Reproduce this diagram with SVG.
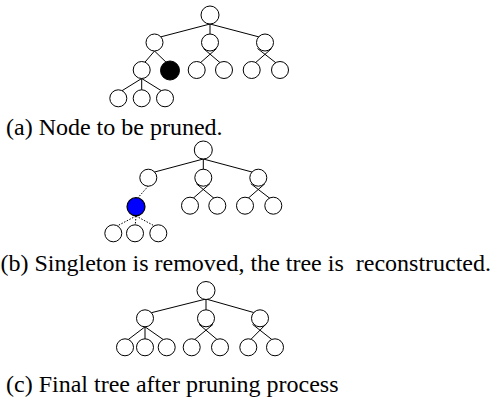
<svg xmlns="http://www.w3.org/2000/svg" width="493" height="398" viewBox="0 0 493 398">
<style>
.e{stroke:#000;stroke-width:1;fill:none}
.d{stroke:#000;stroke-width:1;fill:none;stroke-dasharray:1.5 1.5}
.n{fill:#fff;stroke:#000;stroke-width:1}
.k{fill:#000;stroke:#000;stroke-width:1}
.b{fill:#0000ff;stroke:#000;stroke-width:1.2}
.t{font-family:"Liberation Serif","Times New Roman",serif;font-size:24px;fill:#000;white-space:pre}
</style>
<rect width="493" height="398" fill="#fff"/>
<g id="connectors">
<!-- tree a -->
<line class="e" x1="210" y1="24" x2="154.5" y2="38.5"/>
<line class="e" x1="210" y1="24" x2="210" y2="38.5"/>
<line class="e" x1="210" y1="24" x2="265" y2="38.5"/>
<line class="e" x1="154.5" y1="51" x2="141.7" y2="66"/>
<line class="e" x1="154.5" y1="51" x2="170" y2="66"/>
<line class="e" x1="196.7" y1="66" x2="216.6" y2="48.5"/>
<line class="e" x1="224" y1="66" x2="203.4" y2="48.5"/>
<line class="e" x1="251.7" y1="66" x2="271.6" y2="48.5"/>
<line class="e" x1="280" y1="66" x2="257.5" y2="48.5"/>
<line class="e" x1="141.7" y1="78.5" x2="118.3" y2="93"/>
<line class="e" x1="141.7" y1="78.5" x2="141.7" y2="93"/>
<line class="e" x1="141.7" y1="78.5" x2="165" y2="93"/>
<!-- tree b -->
<line class="e" x1="203.3" y1="159" x2="148.3" y2="173.7"/>
<line class="e" x1="203.3" y1="159" x2="203.3" y2="173.7"/>
<line class="e" x1="203.3" y1="159" x2="258.3" y2="173.7"/>
<line class="d" x1="148.3" y1="186" x2="136" y2="200"/>
<line class="e" x1="190" y1="201" x2="209.9" y2="183.7"/>
<line class="e" x1="217.3" y1="201" x2="196.3" y2="183.7"/>
<line class="e" x1="245" y1="201" x2="264.9" y2="183.7"/>
<line class="e" x1="273.3" y1="201" x2="250.8" y2="183.7"/>
<line class="d" x1="136" y1="216" x2="113.3" y2="228"/>
<line class="d" x1="136" y1="216" x2="135" y2="228"/>
<line class="d" x1="136" y1="216" x2="158.3" y2="228"/>
<!-- tree c -->
<line class="e" x1="206" y1="299" x2="145" y2="314.3"/>
<line class="e" x1="206" y1="299" x2="206" y2="314.3"/>
<line class="e" x1="206" y1="299" x2="260" y2="314.3"/>
<line class="e" x1="145" y1="326.8" x2="125" y2="342"/>
<line class="e" x1="145" y1="326.8" x2="145" y2="342"/>
<line class="e" x1="145" y1="326.8" x2="166.7" y2="342"/>
<line class="e" x1="191.7" y1="342" x2="213.1" y2="324.3"/>
<line class="e" x1="220" y1="342" x2="199" y2="324.3"/>
<line class="e" x1="248.3" y1="342" x2="265.8" y2="324.3"/>
<line class="e" x1="275" y1="342" x2="252.5" y2="324.3"/>
</g>
<!-- tree a nodes -->
<g id="a_root"><circle class="n" cx="210" cy="15" r="9"/></g>
<g id="a_l1"><circle class="n" cx="154.5" cy="42.5" r="8.5"/></g>
<g id="a_l2"><circle class="n" cx="210" cy="42.5" r="8.5"/></g>
<g id="a_l3"><circle class="n" cx="265" cy="42.5" r="8.5"/></g>
<g id="a_m1"><circle class="n" cx="141.7" cy="70" r="8.5"/></g>
<g id="a_pruned"><circle class="k" cx="170" cy="70.5" r="9.5"/></g>
<g id="a_m3"><circle class="n" cx="196.7" cy="70" r="8.5"/></g>
<g id="a_m4"><circle class="n" cx="224" cy="70" r="8.5"/></g>
<g id="a_m5"><circle class="n" cx="251.7" cy="70" r="8.5"/></g>
<g id="a_m6"><circle class="n" cx="280" cy="70" r="8.5"/></g>
<g id="a_b1"><circle class="n" cx="118.3" cy="98.3" r="8.5"/></g>
<g id="a_b2"><circle class="n" cx="141.7" cy="98.3" r="8.5"/></g>
<g id="a_b3"><circle class="n" cx="165" cy="98.3" r="8.5"/></g>
<!-- tree b nodes -->
<g id="b_root"><circle class="n" cx="203.3" cy="150" r="9"/></g>
<g id="b_l1"><circle class="n" cx="148.3" cy="177.7" r="8.5"/></g>
<g id="b_l2"><circle class="n" cx="203.3" cy="177.7" r="8.5"/></g>
<g id="b_l3"><circle class="n" cx="258.3" cy="177.7" r="8.5"/></g>
<g id="b_singleton"><circle class="b" cx="136" cy="206.7" r="9"/></g>
<g id="b_m3"><circle class="n" cx="190" cy="205.7" r="8.5"/></g>
<g id="b_m4"><circle class="n" cx="217.3" cy="205.7" r="8.5"/></g>
<g id="b_m5"><circle class="n" cx="245" cy="205.7" r="8.5"/></g>
<g id="b_m6"><circle class="n" cx="273.3" cy="205.7" r="8.5"/></g>
<g id="b_b1"><circle class="n" cx="113.3" cy="233.3" r="8.5"/></g>
<g id="b_b2"><circle class="n" cx="135" cy="233.3" r="8.5"/></g>
<g id="b_b3"><circle class="n" cx="158.3" cy="233.3" r="8.5"/></g>
<!-- tree c nodes -->
<g id="c_root"><circle class="n" cx="206" cy="290.5" r="9"/></g>
<g id="c_l1"><circle class="n" cx="145" cy="318.3" r="8.5"/></g>
<g id="c_l2"><circle class="n" cx="206" cy="318.3" r="8.5"/></g>
<g id="c_l3"><circle class="n" cx="260" cy="318.3" r="8.5"/></g>
<g id="c_m1"><circle class="n" cx="125" cy="347.3" r="8.5"/></g>
<g id="c_m2"><circle class="n" cx="145" cy="347.3" r="8.5"/></g>
<g id="c_m3"><circle class="n" cx="166.7" cy="347.3" r="8.5"/></g>
<g id="c_m4"><circle class="n" cx="191.7" cy="347.3" r="8.5"/></g>
<g id="c_m5"><circle class="n" cx="220" cy="347.3" r="8.5"/></g>
<g id="c_m6"><circle class="n" cx="248.3" cy="347.3" r="8.5"/></g>
<g id="c_m7"><circle class="n" cx="275" cy="347.3" r="8.5"/></g>
<!-- captions -->
<g id="captions">
<text class="t" x="6" y="135">(a) Node to be pruned.</text>
<text class="t" x="0.5" y="271" xml:space="preserve">(b) Singleton is removed, the tree is  reconstructed.</text>
<text class="t" x="6" y="392">(c) Final tree after pruning process</text>
</g>
</svg>
